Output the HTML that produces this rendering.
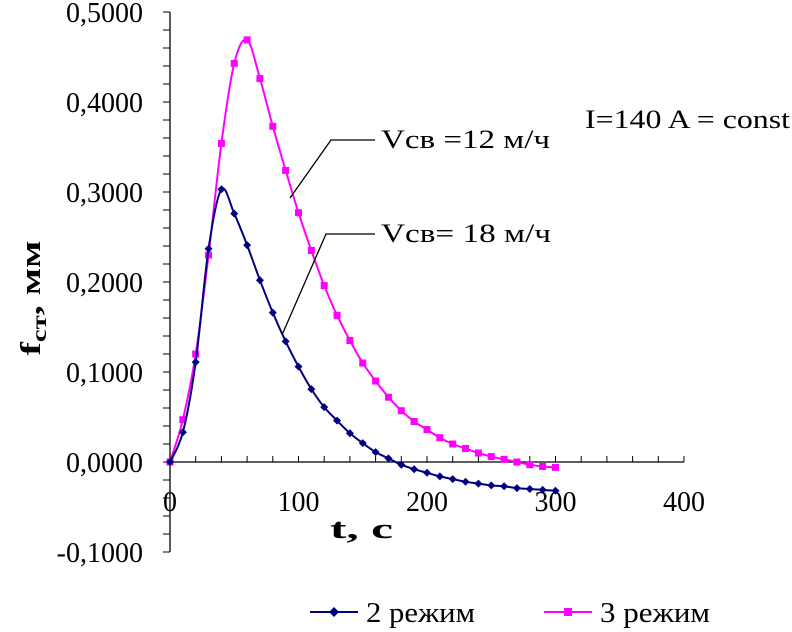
<!DOCTYPE html>
<html><head><meta charset="utf-8"><style>
body{margin:0;background:#fff;}
svg{display:block;font-family:"Liberation Serif",serif;}
</style></head><body>
<svg width="792" height="632" viewBox="0 0 792 632" xmlns="http://www.w3.org/2000/svg">
<g id="axes"></g>
<g id="plot"></g>
<text transform="translate(40,298) rotate(-90)" text-anchor="middle" font-size="28" font-weight="bold" textLength="115" lengthAdjust="spacingAndGlyphs">f<tspan font-size="20" dy="6">ст</tspan><tspan dy="-6">, мм</tspan></text>
<text x="330" y="538" font-size="28" font-weight="bold" textLength="63" lengthAdjust="spacingAndGlyphs">t, с</text>
<text x="585" y="128" font-size="26" textLength="205" lengthAdjust="spacingAndGlyphs">I=140 A = const</text>
<polyline points="290,198 331,140 375,140" fill="none" stroke="#000" stroke-width="1.3"/>
<text x="381" y="148" font-size="26" textLength="169" lengthAdjust="spacingAndGlyphs">Vсв =12 м/ч</text>
<polyline points="282,335 326,234 375,234" fill="none" stroke="#000" stroke-width="1.3"/>
<text x="381" y="242" font-size="26" textLength="170" lengthAdjust="spacingAndGlyphs">Vсв= 18 м/ч</text>
<g>
<line x1="310" y1="612" x2="358" y2="612" stroke="#000080" stroke-width="2"/>
<path d="M334,607 L339,612 L334,617 L329,612Z" fill="#000080"/>
<text x="366" y="622" font-size="28" textLength="109" lengthAdjust="spacingAndGlyphs">2 режим</text>
<line x1="544" y1="612" x2="592" y2="612" stroke="#ff00ff" stroke-width="2"/>
<rect x="564" y="608" width="8" height="8" fill="#ff00ff"/>
<text x="600" y="622" font-size="28" textLength="110" lengthAdjust="spacingAndGlyphs">3 режим</text>
</g>
</svg>
<script>
const times=[0,10,20,30,40,50,60,70,80,90,100,110,120,130,140,150,160,170,180,190,200,210,220,230,240,250,260,270,280,290,300];
const mode2=[0,0.033,0.111,0.237,0.303,0.276,0.241,0.202,0.166,0.134,0.106,0.081,0.061,0.046,0.032,0.021,0.011,0.004,-0.003,-0.008,-0.012,-0.016,-0.019,-0.022,-0.024,-0.026,-0.027,-0.029,-0.030,-0.031,-0.032];
const mode3=[0,0.047,0.120,0.230,0.354,0.443,0.469,0.426,0.373,0.324,0.277,0.235,0.196,0.163,0.135,0.110,0.090,0.072,0.057,0.045,0.036,0.027,0.020,0.015,0.010,0.006,0.003,0.000,-0.003,-0.005,-0.006];
const xTicks=[0,100,200,300,400];
const yTicks=[-0.1,0,0.1,0.2,0.3,0.4,0.5];
const yLabels=["-0,1000","0,0000","0,1000","0,2000","0,3000","0,4000","0,5000"];
const NS="http://www.w3.org/2000/svg";
const X=v=>170+v*1.285, Y=v=>462-v*900;
function mk(tag,attrs,parent){const e=document.createElementNS(NS,tag);for(const k in attrs)e.setAttribute(k,attrs[k]);parent.appendChild(e);return e;}
const ax=document.getElementById('axes'), pl=document.getElementById('plot');
let e=mk('line',{x1:170,y1:Y(0.5),x2:170,y2:Y(-0.1),stroke:'#000','stroke-width':1.3},ax);


e=mk('line',{x1:170,y1:462,x2:X(400),y2:462,stroke:'#000','stroke-width':1.3},ax);


for(let v=-0.1;v<=0.5001;v+=0.02){e=mk('line',{x1:163,y1:Y(v),x2:170,y2:Y(v),stroke:'#000'},ax);

}
for(let t=0;t<=400;t+=20){e=mk('line',{x1:X(t),y1:456,x2:X(t),y2:462,stroke:'#000'},ax);

}
yTicks.forEach((v,i)=>{e=mk('text',{x:143,y:Y(v)+10,'text-anchor':'end','font-size':28},ax);e.textContent=yLabels[i];

});
xTicks.forEach(v=>{e=mk('text',{x:X(v),y:511,'text-anchor':'middle','font-size':28},ax);e.textContent=v;

});
function smooth(pts){let d=`M${pts[0][0]},${pts[0][1]}`;for(let i=0;i<pts.length-1;i++){const p0=pts[i-1]||pts[i],p1=pts[i],p2=pts[i+1],p3=pts[i+2]||p2;
d+=` C${p1[0]+(p2[0]-p0[0])/6},${p1[1]+(p2[1]-p0[1])/6} ${p2[0]-(p3[0]-p1[0])/6},${p2[1]-(p3[1]-p1[1])/6} ${p2[0]},${p2[1]}`;}return d;}
function series(vals,color,shape,name){const pts=times.map((t,i)=>[X(t),Y(vals[i])]);
e=mk('path',{d:smooth(pts),fill:'none',stroke:color,'stroke-width':2},pl);


pts.forEach(p=>{if(shape==='d')e=mk('path',{d:`M${p[0]},${p[1]-4} L${p[0]+4},${p[1]} L${p[0]},${p[1]+4} L${p[0]-4},${p[1]}Z`,fill:color},pl);
else e=mk('rect',{x:p[0]-3.5,y:p[1]-3.5,width:7,height:7,fill:color},pl);

});}
series(mode3,'#ff00ff','s','mode3');
series(mode2,'#000080','d','mode2');
</script>
</body></html>
